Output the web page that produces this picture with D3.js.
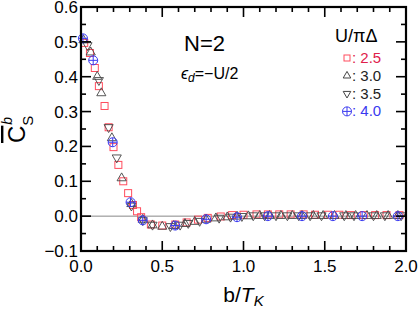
<!DOCTYPE html>
<html>
<head>
<meta charset="utf-8">
<script src="https://cdn.jsdelivr.net/npm/d3@7"></script>
<style>
  body { margin: 0; background: #fff; }
  text { font-family: "Liberation Sans", Arial, sans-serif; }
</style>
</head>
<body>
<div id="chart"></div>
<script>
// series: b/T_K and C_S^b for each U/piDelta
const xSq = [0.02,0.055,0.085,0.11,0.145,0.17,0.20,0.23,0.26,0.29,0.32,0.345,0.37,0.43,0.50,0.58,0.65,0.72,0.78,0.86,0.93,1.00,1.08,1.15,1.22,1.29,1.37,1.44,1.52,1.59,1.66,1.74,1.81,1.88,1.96];
const ySq = [0.497,0.468,0.425,0.373,0.316,0.255,0.198,0.147,0.100,0.066,0.032,0.014,-0.003,-0.024,-0.027,-0.024,-0.018,-0.010,-0.005,-0.001,0.003,0.004,0.005,0.005,0.005,0.005,0.005,0.004,0.004,0.004,0.003,0.003,0.003,0.003,0.003];
const xUp = [0.015,0.06,0.10,0.125,0.19,0.25,0.31,0.38,0.44,0.50,0.57,0.64,0.70,0.77,0.83,0.90,0.96,1.03,1.10,1.16,1.23,1.30,1.36,1.43,1.49,1.56,1.63,1.69,1.76,1.82,1.89,1.95];
const yUp = [0.505,0.47,0.40,0.353,0.224,0.109,0.035,-0.010,-0.026,-0.030,-0.028,-0.022,-0.016,-0.010,-0.006,-0.003,-0.001,0.000,0.001,0.001,0.001,0.001,0.001,0.001,0.001,0.001,0.001,0.001,0.001,0.001,0.001,0.001];
const xDn = [0.04,0.11,0.17,0.22,0.31,0.38,0.44,0.55,0.61,0.66,0.73,0.85,0.92,0.99,1.06,1.13,1.20,1.27,1.34,1.41,1.48,1.62,1.68,1.80,1.87,1.97];
const yDn = [0.49,0.39,0.255,0.168,0.030,-0.012,-0.025,-0.029,-0.025,-0.020,-0.014,-0.005,-0.002,0.000,0.002,0.002,0.002,0.002,0.002,0.002,0.002,0.002,0.002,0.002,0.002,0.002];
const xCp = [0.012,0.075,0.195,0.305,0.38,0.58,0.77,0.96,1.15,1.36,1.55,1.73,1.95];
const yCp = [0.51,0.447,0.212,0.040,-0.012,-0.027,-0.009,-0.003,0.000,0.000,0.000,0.000,0.000];

const legendLabels = ["2.5", "3.0", "3.5", "4.0"];
const xTicks = [0, 0.5, 1.0, 1.5, 2.0];
const yTicks = [-0.1, 0, 0.1, 0.2, 0.3, 0.4, 0.5, 0.6];

const red = "#ff4d5e", grey = "#444", blue = "#3a3af0";

var width = 420, height = 311;
var margin = {left: 81, right: 14, top: 7, bottom: 60};

var svg = d3.select('#chart').append('svg')
    .attr('width', width)
    .attr('height', height);

var x = d3.scaleLinear().domain([0, 2]).range([margin.left, width - margin.right]);
var y = d3.scaleLinear().domain([-0.1, 0.6]).range([height - margin.bottom, margin.top]);

// zero line
svg.append('line')
  .attr('x1', x(0)).attr('x2', x(2))
  .attr('y1', y(0)).attr('y2', y(0))
  .attr('stroke', '#888').attr('stroke-width', 1);

// markers
function zip(xs, ys) { return xs.map((v, i) => ({x: v, y: ys[i]})); }

svg.append('g').selectAll('rect')
  .data(zip(xSq, ySq)).enter().append('rect')
  .attr('x', d => x(d.x) - 3.5).attr('y', d => y(d.y) - 3.5)
  .attr('width', 7).attr('height', 7)
  .attr('fill', 'none').attr('stroke', red).attr('stroke-width', 1);

var triUp = d3.symbol().type(d3.symbolTriangle).size(36);
svg.append('g').selectAll('path')
  .data(zip(xUp, yUp)).enter().append('path')
  .attr('d', triUp)
  .attr('transform', d => `translate(${x(d.x)},${y(d.y)})`)
  .attr('fill', 'none').attr('stroke', grey).attr('stroke-width', 0.9);

svg.append('g').selectAll('path')
  .data(zip(xDn, yDn)).enter().append('path')
  .attr('d', triUp)
  .attr('transform', d => `translate(${x(d.x)},${y(d.y)}) rotate(180)`)
  .attr('fill', 'none').attr('stroke', grey).attr('stroke-width', 0.9);

function circPlus(g, r) {
  g.append('circle').attr('r', r).attr('fill', 'none').attr('stroke', blue).attr('stroke-width', 1);
  g.append('path').attr('d', `M${-r},0H${r}M0,${-r}V${r}`).attr('stroke', blue).attr('stroke-width', 1);
}
svg.append('g').selectAll('g')
  .data(zip(xCp, yCp)).enter().append('g')
  .attr('transform', d => `translate(${x(d.x)},${y(d.y)})`)
  .each(function () { circPlus(d3.select(this), 4.5); });

// axes with inward ticks on all four sides
var x0 = x(0), x1 = x(2), y0 = y(-0.1), y1 = y(0.6);
var xMinor = d3.range(0, 2.001, 0.1);
var yMinor = d3.range(-0.1, 0.601, 0.05);

var ticks = svg.append('g').attr('stroke', '#000').attr('stroke-width', 1.6);
xMinor.forEach(function (v) {
  var major = xTicks.some(t => Math.abs(t - v) < 1e-6);
  var len = major ? 10 : 5;
  ticks.append('line').attr('x1', x(v)).attr('x2', x(v)).attr('y1', y0).attr('y2', y0 - len);
  ticks.append('line').attr('x1', x(v)).attr('x2', x(v)).attr('y1', y1).attr('y2', y1 + len);
});
yMinor.forEach(function (v) {
  var major = yTicks.some(t => Math.abs(t - v) < 1e-6);
  var len = major ? 10 : 5;
  ticks.append('line').attr('x1', x0).attr('x2', x0 + len).attr('y1', y(v)).attr('y2', y(v));
  ticks.append('line').attr('x1', x1).attr('x2', x1 - len).attr('y1', y(v)).attr('y2', y(v));
});

svg.append('rect')
  .attr('x', x0).attr('y', y1).attr('width', x1 - x0).attr('height', y0 - y1)
  .attr('fill', 'none').attr('stroke', '#000').attr('stroke-width', 2.2);

// tick labels
svg.append('g').selectAll('text')
  .data(xTicks).enter().append('text')
  .attr('x', d => x(d)).attr('y', y0 + 21)
  .attr('text-anchor', 'middle').attr('font-size', 17)
  .text(d => d.toFixed(1));

svg.append('g').selectAll('text')
  .data(yTicks).enter().append('text')
  .attr('x', x0 - 3).attr('y', d => y(d) + 6)
  .attr('text-anchor', 'end').attr('font-size', 17)
  .text(d => (d < 0 ? '\u2212' + Math.abs(d).toFixed(1) : d.toFixed(1)));

// axis titles
var xl = svg.append('text')
  .attr('x', (x0 + x1) / 2).attr('y', 302)
  .attr('text-anchor', 'middle').attr('font-size', 21);
xl.append('tspan').text('b/');
xl.append('tspan').attr('font-style', 'italic').text('T');
xl.append('tspan').attr('font-style', 'italic').attr('font-size', 15).attr('dy', 4).text('K');

var yl = svg.append('text')
  .attr('transform', 'translate(25,143) rotate(-90)')
  .attr('text-anchor', 'start').attr('font-size', 24);
yl.append('tspan').attr('text-decoration', 'overline').text('C');
yl.append('tspan').attr('font-size', 15).attr('dy', 8).text('S');
yl.append('tspan').attr('font-style', 'italic').attr('font-size', 14).attr('dx', -9).attr('dy', -21).text('b');

// annotations
svg.append('text').attr('x', 184).attr('y', 51).attr('font-size', 22).text('N=2');
var eps = svg.append('text').attr('x', 181).attr('y', 79).attr('font-size', 16);
eps.append('tspan').attr('font-style', 'italic').text('\u03f5');
eps.append('tspan').attr('font-style', 'italic').attr('font-size', 12).attr('dy', 3).text('d');
eps.append('tspan').attr('dy', -3).text('=\u2212U/2');

// legend
svg.append('text').attr('x', 335).attr('y', 42).attr('font-size', 18).text('U/\u03c0\u0394');
var legColors = [red, grey, grey, blue];
var legText = ['#e0204a', '#222', '#222', blue];
legendLabels.forEach(function (lab, i) {
  var ly = 63 + i * 17.8;
  var g = svg.append('g').attr('transform', `translate(347,${ly - 5})`);
  if (i === 0) g.append('rect').attr('x', -3).attr('y', -3).attr('width', 6).attr('height', 6)
      .attr('fill', 'none').attr('stroke', legColors[i]);
  if (i === 1) g.append('path').attr('d', d3.symbol().type(d3.symbolTriangle).size(25))
      .attr('fill', 'none').attr('stroke', legColors[i]);
  if (i === 2) g.append('path').attr('d', d3.symbol().type(d3.symbolTriangle).size(25))
      .attr('transform', 'rotate(180)').attr('fill', 'none').attr('stroke', legColors[i]);
  if (i === 3) circPlus(g, 4.5);
  svg.append('text').attr('x', 352).attr('y', ly).attr('font-size', 15)
    .attr('fill', legText[i]).text(': ' + lab);
});
</script>
</body>
</html>
